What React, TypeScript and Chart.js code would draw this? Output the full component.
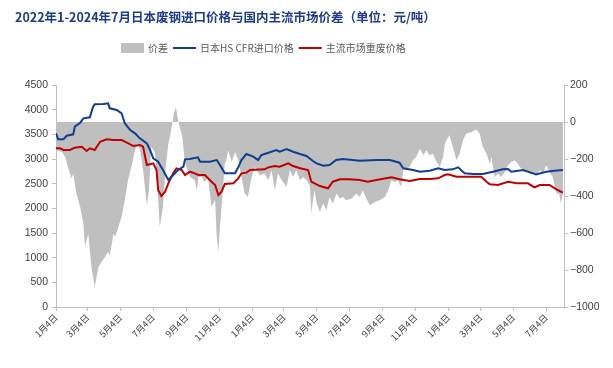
import { useEffect, useRef } from "react";
import { Chart, registerables } from "chart.js";

Chart.register(...registerables);

const TITLE = "2022年1-2024年7月日本废钢进口价格与国内主流市场价差（单位：元/吨）";
const seriesNames = ["价差", "日本HS CFR进口价格", "主流市场重废价格"];

// x positions are days counted from 2022-01-04
const tickDays = [0, 59, 120, 181, 243, 304, 365, 424, 485, 546, 608, 669, 730, 790, 851, 912];
const tickLabels = [
  "1月4日", "3月4日", "5月4日", "7月4日", "9月4日", "11月4日",
  "1月4日", "3月4日", "5月4日", "7月4日", "9月4日", "11月4日",
  "1月4日", "3月4日", "5月4日", "7月4日",
];

const importDays = [0, 4, 14, 20, 32, 35, 45, 51, 63, 69, 72, 88, 97, 100, 113, 122, 128, 138, 147, 156, 169, 175, 181, 190, 199, 209, 218, 227, 237, 240, 249, 264, 268, 286, 299, 305, 314, 333, 339, 345, 354, 367, 376, 382, 395, 410, 416, 429, 441, 454, 466, 478, 485, 497, 509, 521, 534, 565, 596, 621, 639, 646, 664, 677, 695, 711, 723, 738, 748, 760, 776, 794, 813, 831, 841, 847, 869, 893, 912, 927, 943];
const importPrices = [3520, 3400, 3400, 3472, 3500, 3655, 3736, 3824, 3845, 4060, 4108, 4115, 4128, 4027, 3993, 3926, 3723, 3588, 3520, 3419, 3318, 3182, 3014, 2945, 2777, 2574, 2675, 2777, 2844, 2993, 3000, 3034, 2945, 2945, 2979, 2878, 2710, 2710, 2831, 2979, 3101, 3047, 2979, 3081, 3128, 3182, 3148, 3202, 3148, 3101, 3061, 2959, 2912, 2864, 2878, 2979, 3000, 2965, 2979, 2979, 2925, 2811, 2777, 2743, 2763, 2811, 2777, 2790, 2831, 2710, 2696, 2696, 2743, 2790, 2797, 2743, 2777, 2689, 2743, 2763, 2777];

const domesticDays = [0, 7, 14, 26, 35, 48, 57, 63, 72, 82, 94, 107, 122, 131, 144, 156, 162, 169, 181, 187, 190, 196, 203, 209, 218, 224, 234, 240, 249, 258, 265, 277, 286, 296, 302, 308, 314, 330, 339, 345, 354, 361, 388, 395, 407, 416, 432, 441, 454, 469, 475, 481, 491, 506, 515, 528, 546, 565, 580, 596, 614, 624, 639, 658, 677, 695, 711, 723, 729, 745, 770, 791, 801, 807, 822, 841, 857, 878, 890, 900, 918, 931, 943];
const domesticPrices = [3216, 3216, 3182, 3182, 3229, 3249, 3162, 3216, 3182, 3350, 3399, 3385, 3385, 3338, 3263, 3284, 3249, 2878, 2912, 2777, 2371, 2250, 2337, 2507, 2710, 2811, 2777, 2675, 2743, 2710, 2675, 2675, 2574, 2473, 2270, 2337, 2493, 2507, 2608, 2710, 2723, 2777, 2790, 2831, 2858, 2844, 2912, 2858, 2811, 2777, 2540, 2507, 2452, 2406, 2540, 2588, 2588, 2574, 2540, 2574, 2608, 2628, 2588, 2554, 2594, 2594, 2608, 2675, 2689, 2642, 2642, 2642, 2540, 2486, 2473, 2540, 2507, 2507, 2426, 2473, 2473, 2385, 2317];

const spreadDays = [0, 2, 11, 17, 23, 29, 32, 38, 45, 51, 54, 60, 66, 72, 79, 85, 91, 97, 100, 107, 110, 116, 122, 128, 134, 141, 147, 151, 156, 162, 169, 173, 177, 184, 188, 193, 199, 204, 209, 213, 217, 219, 223, 226, 230, 235, 240, 249, 258, 262, 265, 271, 277, 283, 289, 296, 299, 302, 305, 308, 314, 317, 320, 327, 333, 339, 345, 351, 357, 364, 370, 379, 388, 395, 401, 407, 413, 420, 429, 435, 441, 447, 454, 460, 466, 472, 475, 478, 481, 485, 491, 497, 503, 509, 515, 522, 528, 534, 540, 550, 559, 565, 571, 577, 584, 593, 602, 612, 618, 624, 630, 636, 642, 646, 652, 658, 664, 670, 677, 683, 689, 695, 701, 708, 714, 720, 723, 726, 732, 738, 745, 751, 757, 763, 773, 782, 788, 794, 801, 807, 810, 816, 822, 828, 835, 841, 847, 853, 859, 865, 875, 884, 893, 900, 906, 912, 918, 924, 931, 936, 939, 943];
const spreadValues = [-380, -153, -162, -189, -252, -306, -279, -387, -459, -550, -676, -604, -784, -892, -784, -757, -730, -703, -721, -604, -622, -568, -514, -423, -315, -234, -153, -117, -144, -261, -450, -369, -135, -162, -315, -568, -459, -243, -117, -63, 0, 45, 81, 27, -27, -81, -220, -297, -315, -369, -297, -297, -324, -297, -459, -423, -622, -703, -568, -459, -225, -207, -153, -216, -162, -207, -297, -387, -405, -297, -243, -288, -279, -315, -261, -369, -279, -315, -351, -261, -297, -261, -315, -297, -315, -342, -495, -423, -369, -441, -486, -441, -477, -405, -441, -387, -414, -405, -423, -414, -387, -405, -369, -414, -450, -432, -423, -405, -369, -315, -324, -315, -351, -261, -252, -243, -207, -189, -144, -180, -153, -180, -171, -216, -243, -189, -126, -99, -72, -135, -207, -171, -99, -63, -54, -41, -63, -135, -171, -225, -189, -297, -279, -297, -270, -234, -216, -207, -225, -252, -261, -270, -288, -261, -279, -234, -270, -297, -387, -387, -441, -387];

const BLUE = "#0f3f91";
const RED = "#c00000";
const GRAY = "#bfbfbf";
const AXIS = "#bfbfbf";
const TEXT = "#404040";

function toPoints(xs: number[], ys: number[]) {
  return xs.map((x, i) => ({ x, y: ys[i] }));
}

export default function App() {
  const ref = useRef<HTMLCanvasElement>(null);

  useEffect(() => {
    if (!ref.current) return;

    const headerPlugin = {
      id: "header",
      afterDraw(chart: any) {
        const ctx = chart.ctx as CanvasRenderingContext2D;
        ctx.save();
        ctx.textAlign = "left";
        ctx.textBaseline = "middle";
        ctx.font = 'bold 12.5px "Noto Sans CJK SC"';
        ctx.fillStyle = "#1f3c88";
        ctx.fillText(TITLE, 15, 17);

        ctx.font = '10px "Noto Sans CJK SC"';
        const y = 48;
        let x = 121;
        const items = [
          { name: seriesNames[0], kind: "box", color: GRAY },
          { name: seriesNames[1], kind: "line", color: BLUE },
          { name: seriesNames[2], kind: "line", color: RED },
        ];
        for (const it of items) {
          if (it.kind === "box") {
            ctx.fillStyle = it.color;
            ctx.fillRect(x, y - 5, 23, 10);
          } else {
            ctx.strokeStyle = it.color;
            ctx.lineWidth = 2;
            ctx.beginPath();
            ctx.moveTo(x, y);
            ctx.lineTo(x + 23, y);
            ctx.stroke();
          }
          x += 27;
          ctx.fillStyle = "#595959";
          ctx.fillText(it.name, x, y);
          x += ctx.measureText(it.name).width + 5;
        }
        ctx.restore();
      },
    };

    const chart = new Chart(ref.current, {
      type: "line",
      data: {
        datasets: [
          {
            label: seriesNames[1],
            data: toPoints(importDays, importPrices),
            yAxisID: "y",
            borderColor: BLUE,
            backgroundColor: BLUE,
            borderWidth: 2,
            pointRadius: 0,
            fill: false,
            tension: 0,
            order: 1,
          },
          {
            label: seriesNames[2],
            data: toPoints(domesticDays, domesticPrices),
            yAxisID: "y",
            borderColor: RED,
            backgroundColor: RED,
            borderWidth: 2,
            pointRadius: 0,
            fill: false,
            tension: 0,
            order: 2,
          },
          {
            label: seriesNames[0],
            data: toPoints(spreadDays, spreadValues),
            yAxisID: "y1",
            borderColor: GRAY,
            backgroundColor: GRAY,
            borderWidth: 0,
            pointRadius: 0,
            fill: "origin",
            tension: 0,
            order: 3,
          },
        ],
      },
      options: {
        animation: false,
        responsive: true,
        maintainAspectRatio: false,
        layout: { padding: { top: 85, left: 0, right: 0, bottom: 0 } },
        plugins: {
          legend: { display: false },
          title: { display: false },
          tooltip: { enabled: false },
        },
        scales: {
          x: {
            type: "linear",
            min: 0,
            max: 945,
            afterBuildTicks: (s: any) => {
              s.ticks = tickDays.map((v) => ({ value: v }));
            },
            afterFit: (s: any) => {
              s.height = 61;
            },
            grid: { display: true, drawOnChartArea: false, tickLength: 4, color: AXIS },
            border: { color: AXIS },
            ticks: {
              autoSkip: false,
              minRotation: 45,
              maxRotation: 45,
              padding: 1,
              color: TEXT,
              font: { size: 9, family: '"Noto Sans CJK SC"' },
              callback: (_v: any, i: number) => tickLabels[i],
            },
          },
          y: {
            position: "left",
            min: 0,
            max: 4500,
            afterFit: (s: any) => {
              s.width = 56;
            },
            grid: { display: true, drawOnChartArea: false, tickLength: 4, color: AXIS },
            border: { color: AXIS },
            ticks: {
              stepSize: 500,
              padding: 4,
              color: TEXT,
              font: { size: 10.5, family: '"Liberation Sans", Arial, sans-serif' },
              callback: (v: any) => String(v),
            },
          },
          y1: {
            position: "right",
            min: -1000,
            max: 200,
            afterFit: (s: any) => {
              s.width = 49;
            },
            grid: { display: true, drawOnChartArea: false, tickLength: 4, color: AXIS },
            border: { color: AXIS },
            ticks: {
              stepSize: 200,
              padding: 2,
              color: TEXT,
              font: { size: 10.5, family: '"Liberation Sans", Arial, sans-serif' },
              callback: (v: any) => (Number(v) < 0 ? "\u2212" + Math.abs(Number(v)) : String(v)),
            },
          },
        },
      },
      plugins: [headerPlugin],
    } as any);

    return () => chart.destroy();
  }, []);

  return (
    <div style={{ position: "fixed", left: 0, top: 0, width: 613, height: 368, background: "#fff" }}>
      <canvas ref={ref} />
    </div>
  );
}
